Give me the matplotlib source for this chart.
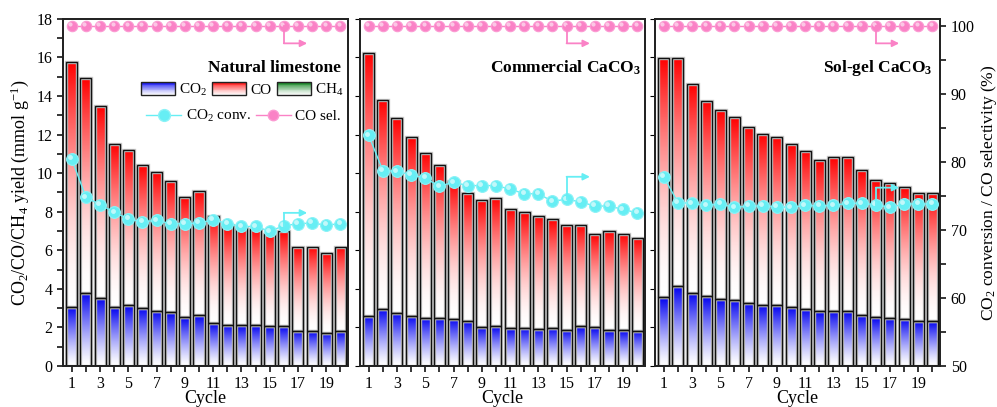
import numpy as np
import matplotlib
matplotlib.use('Agg')
import matplotlib.pyplot as plt
from matplotlib.colors import LinearSegmentedColormap
from matplotlib.legend_handler import HandlerBase
from matplotlib.patches import Rectangle, Patch
from matplotlib.lines import Line2D
from matplotlib.transforms import ScaledTranslation
from matplotlib.ticker import MultipleLocator

plt.rcParams['font.family'] = ['Liberation Serif', 'DejaVu Serif']
plt.rcParams['mathtext.fontset'] = 'custom'
plt.rcParams['mathtext.rm'] = 'Liberation Serif'
plt.rcParams['mathtext.bf'] = 'Liberation Serif:bold'
plt.rcParams['mathtext.it'] = 'Liberation Serif:italic'

cycles = list(range(1, 21))

# yields (mmol g-1), stacked: CO2 at the bottom, CO on top
nat_co2 = [3.08, 3.80, 3.54, 3.04, 3.16, 3.01, 2.87, 2.78, 2.54, 2.63,
           2.21, 2.14, 2.11, 2.11, 2.07, 2.07, 1.82, 1.80, 1.73, 1.80]
nat_co = [12.70, 11.14, 9.93, 8.49, 8.04, 7.40, 7.18, 6.82, 6.24, 6.46,
          5.59, 5.17, 5.03, 4.98, 4.78, 4.91, 4.34, 4.36, 4.12, 4.36]
com_co2 = [2.61, 2.96, 2.75, 2.61, 2.49, 2.49, 2.45, 2.32, 2.04, 2.07,
           1.95, 1.99, 1.92, 1.99, 1.87, 2.07, 2.02, 1.85, 1.85, 1.82]
com_co = [13.64, 10.85, 10.11, 9.27, 8.56, 7.92, 7.13, 6.64, 6.56, 6.66,
          6.18, 5.98, 5.88, 5.63, 5.46, 5.24, 4.81, 5.13, 4.98, 4.83]
sol_co2 = [3.56, 4.13, 3.79, 3.62, 3.49, 3.44, 3.27, 3.18, 3.15, 3.06,
           2.96, 2.85, 2.87, 2.85, 2.65, 2.54, 2.51, 2.44, 2.33, 2.33]
sol_co = [12.40, 11.83, 10.82, 10.14, 9.77, 9.47, 9.13, 8.87, 8.73, 8.45,
          8.21, 7.82, 7.97, 7.99, 7.50, 7.09, 6.97, 6.84, 6.63, 6.63]

# CO2 conversion / CO selectivity (%)
nat_conv = [80.4, 74.8, 73.7, 72.6, 71.6, 71.2, 71.4, 70.9, 70.9, 71.0,
            71.5, 70.9, 70.5, 70.5, 69.8, 70.6, 70.9, 71.0, 70.7, 70.9]
com_conv = [83.9, 78.7, 78.6, 78.1, 77.6, 76.4, 77.0, 76.5, 76.5, 76.5,
            76.0, 75.3, 75.3, 74.2, 74.5, 74.1, 73.5, 73.5, 73.0, 72.5]
sol_conv = [77.8, 74.0, 73.9, 73.6, 73.8, 73.3, 73.5, 73.5, 73.4, 73.3,
            73.6, 73.5, 73.6, 73.9, 73.9, 73.7, 73.3, 73.8, 73.8, 73.8]
co_sel = [100.0] * 20

titles = ['Natural limestone', r'Commercial CaCO$_\mathbf{3}$', r'Sol-gel CaCO$_\mathbf{3}$']

blue_cm = LinearSegmentedColormap.from_list('b', ['#ffffff', '#0000f0'])
red_cm = LinearSegmentedColormap.from_list('r', ['#ffffff', '#ff0000'])
green_cm = LinearSegmentedColormap.from_list('g', ['#ffffff', '#007a10'])
cyan = '#66eef4'
pink = '#fa82c6'
ramp = np.linspace(0, 1, 256).reshape(-1, 1)
W = 0.78


def grad_bars(ax, x, bottom, height, cmap, gamma):
    for xi, b, h in zip(x, bottom, height):
        ax.imshow(ramp ** gamma, extent=(xi - W / 2, xi + W / 2, b, b + h), origin='lower',
                  aspect='auto', cmap=cmap, vmin=0, vmax=1, zorder=2, interpolation='bilinear')
    ax.bar(x, height, W, bottom, facecolor='none', edgecolor='#c6c6c6', lw=2.4, zorder=2.5)
    ax.bar(x, height, W, bottom, facecolor='none', edgecolor='#111111', lw=1.0, zorder=3)


class GradHandler(HandlerBase):
    def __init__(self, cmap):
        super().__init__()
        self.cmap = cmap

    def create_artists(self, legend, orig_handle, xdescent, ydescent, width, height, fontsize, trans):
        arts = []
        n = 16
        for i in range(n):
            arts.append(Rectangle((-xdescent, -ydescent + height * i / n), width, height / n,
                                  facecolor=self.cmap(((i + 0.5) / n) ** 1.4), edgecolor='none',
                                  transform=trans))
        arts.append(Rectangle((-xdescent, -ydescent), width, height, fill=False,
                              edgecolor='#222222', lw=1.0, transform=trans))
        return arts


def arrow(ax, x, y, dy, color):
    ax.plot([x, x], [y, y + dy], color=color, lw=1.3, zorder=6)
    ax.annotate('', xy=(x + 1.65, y + dy), xytext=(x, y + dy),
                arrowprops=dict(arrowstyle='-|>', color=color, lw=1.3, shrinkA=0, shrinkB=0,
                                mutation_scale=10), zorder=6)


fig = plt.figure(figsize=(9.97, 4.07), dpi=100)
lefts = [0.0632, 0.361, 0.657]
width = 0.286
panels = [(nat_co2, nat_co, nat_conv, 16, 1.9, 16),
          (com_co2, com_co, com_conv, 15, 3.3, 15),
          (sol_co2, sol_co, sol_conv, 16, 2.5, 16)]

for k, (co2, co, conv, ci, rise, pi) in enumerate(panels):
    ax = fig.add_axes([lefts[k], 0.1007, width, 0.853])
    grad_bars(ax, cycles, [0] * 20, co2, blue_cm, 1.3)
    grad_bars(ax, cycles, co2, co, red_cm, 1.7)
    ax.set_xlim(0.38, 20.55)
    ax.set_ylim(0, 18)
    ax.set_xticks(range(1, 20, 2))
    ax.set_xticks(range(2, 21, 2), minor=True)
    ax.tick_params(axis='x', which='both', direction='out', length=4, width=1.1, labelsize=11.5, pad=3)
    ax.set_xlabel('Cycle', fontsize=13, labelpad=-1)
    if k == 0:
        ax.yaxis.set_major_locator(MultipleLocator(2))
        ax.yaxis.set_minor_locator(MultipleLocator(1))
        ax.tick_params(axis='y', which='both', direction='out', length=4, width=1.1, labelsize=11.5)
        ax.set_ylabel('CO$_2$/CO/CH$_4$ yield (mmol g$^{-1}$)', fontsize=13, labelpad=4)
    else:
        ax.tick_params(axis='y', which='both', left=False, labelleft=False)

    ax2 = ax.twinx()
    ax2.set_ylim(50, 101)
    ax2.plot(cycles, conv, '-', color=cyan, lw=1.0, marker='o', ms=8.5, mfc=cyan, mec='#8cf2f6', mew=0.8, zorder=5)
    ax2.plot(cycles, co_sel, '-', color=pink, lw=1.0, marker='o', ms=7.5, mfc=pink, mec='#fb9ad2', mew=0.8, zorder=5)
    off = ScaledTranslation(-1.2 / 72, 1.2 / 72, fig.dpi_scale_trans)
    ax2.plot(cycles, conv, 'o', ms=3.5, color='white', alpha=0.6, mec='none', zorder=5.5,
             transform=ax2.transData + off)
    ax2.plot(cycles, co_sel, 'o', ms=3, color='white', alpha=0.55, mec='none', zorder=5.5,
             transform=ax2.transData + off)
    arrow(ax2, cycles[ci - 1], conv[ci - 1], rise, cyan)
    arrow(ax2, cycles[pi - 1], co_sel[pi - 1], -2.6, pink)
    if k == 2:
        ax2.yaxis.set_major_locator(MultipleLocator(10))
        ax2.yaxis.set_minor_locator(MultipleLocator(5))
        ax2.tick_params(axis='y', which='both', direction='out', length=4, width=1.1, labelsize=11.5)
        ax2.set_ylabel('CO$_2$ conversion / CO selectivity (%)', fontsize=12.5, labelpad=3)
    else:
        ax2.tick_params(axis='y', which='both', right=False, labelright=False)

    for a in (ax, ax2):
        for s in a.spines.values():
            s.set_linewidth(1.3)
            s.set_color('#222222')

    ax2.text(0.975 if k != 1 else 0.985, 0.858, titles[k], transform=ax2.transAxes, ha='right',
             va='center', fontsize=12.5, fontweight='bold')

    if k == 0:
        hb, hr, hg = Patch(), Patch(), Patch()
        leg1 = ax2.legend([hb, hr, hg], ['CO$_2$', 'CO', 'CH$_4$'],
                          handler_map={hb: GradHandler(blue_cm), hr: GradHandler(red_cm),
                                       hg: GradHandler(green_cm)},
                          ncol=3, loc='center right', bbox_to_anchor=(0.985, 0.795), frameon=False,
                          fontsize=11, handlelength=2.2, handleheight=0.95, handletextpad=0.3,
                          columnspacing=0.35, borderpad=0, borderaxespad=0)
        ax2.add_artist(leg1)
        lc = Line2D([], [], color=cyan, lw=1.0, marker='o', ms=8.5, mfc=cyan, mec='#8cf2f6')
        lp = Line2D([], [], color=pink, lw=1.0, marker='o', ms=7.5, mfc=pink, mec='#fb9ad2')
        ax2.legend([lc, lp], ['CO$_2$ conv.', 'CO sel.'], ncol=2, loc='center right',
                   bbox_to_anchor=(0.975, 0.72), frameon=False, fontsize=11, handlelength=2.3,
                   handletextpad=0.3, columnspacing=0.3, borderpad=0, borderaxespad=0)

fig.savefig('out.png', dpi=100)
